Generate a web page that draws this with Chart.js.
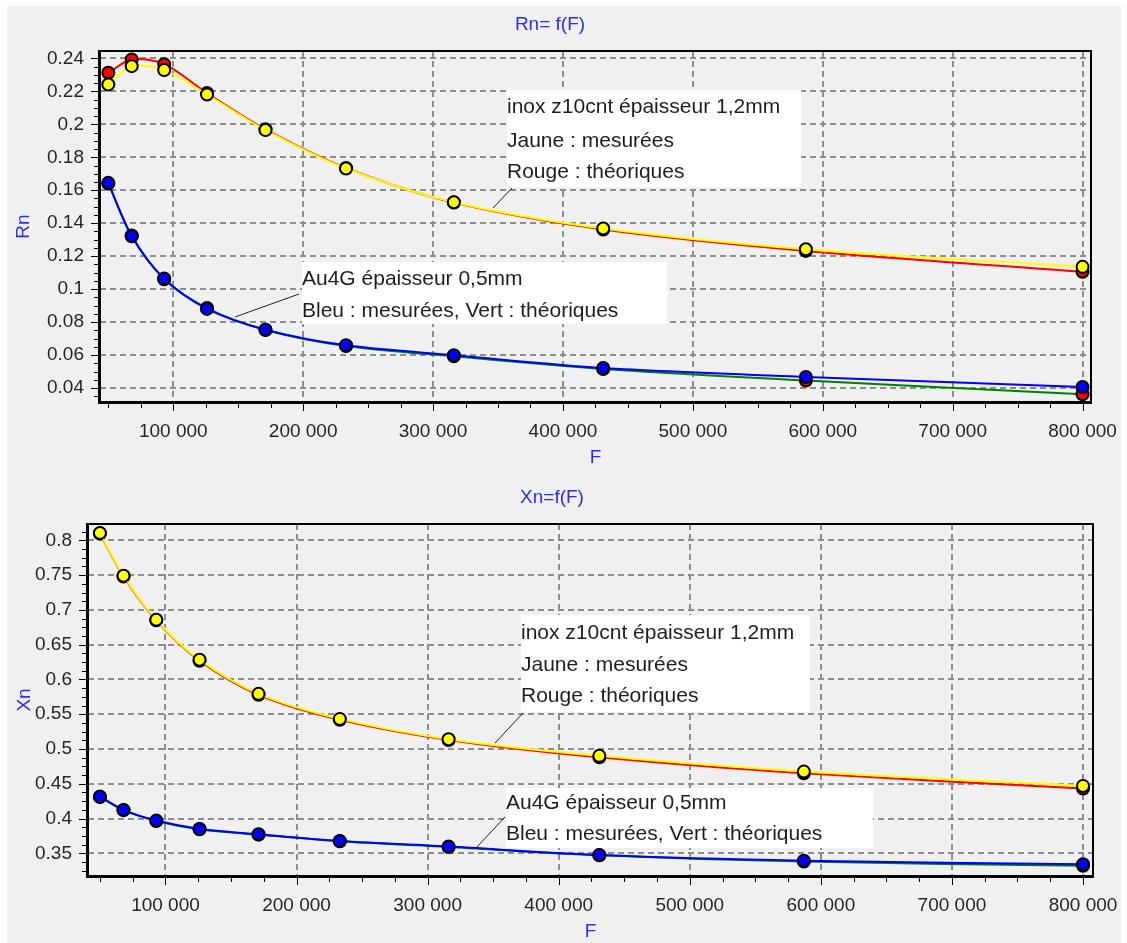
<!DOCTYPE html>
<html>
<head>
<meta charset="utf-8">
<script src="https://cdn.jsdelivr.net/npm/chart.js@4/dist/chart.umd.min.js"></script>
<style>
  html, body { margin: 0; padding: 0; background: #ffffff; }
  #panel { position: absolute; left: 7px; top: 6px; width: 1114px; height: 937px; background: #f0f0f0; }
  #c1 { position: absolute; left: 0; top: 0; }
  #c2 { position: absolute; left: 0; top: 470px; }
</style>
</head>
<body>
<div id="panel"></div>
<canvas id="c1" width="1127" height="470" style="width:1127px;height:470px"></canvas>
<canvas id="c2" width="1127" height="473" style="width:1127px;height:473px"></canvas>
<script>
// ---------- data ----------
const freq = [50000, 68000, 93000, 126000, 171000, 233000, 316000, 431000, 587000, 800000];

const rnInoxMes  = [0.2242, 0.2353, 0.2329, 0.2181, 0.1965, 0.1732, 0.1527, 0.1368, 0.1242, 0.1135];
const rnInoxTheo = [0.2313, 0.2394, 0.2365, 0.2190, 0.1970, 0.1735, 0.1525, 0.1362, 0.1232, 0.1105];
const rnAuMes    = [0.1645, 0.1321, 0.1064, 0.0880, 0.0754, 0.0659, 0.0599, 0.0521, 0.0467, 0.0406];
const rnAuTheo   = [0.1640, 0.1325, 0.1060, 0.0885, 0.0752, 0.0655, 0.0592, 0.0515, 0.0445, 0.0362];

const xnInoxMes  = [0.8107, 0.7492, 0.6859, 0.6283, 0.5793, 0.5433, 0.5141, 0.4901, 0.4675, 0.4469];
const xnInoxTheo = [0.8100, 0.7480, 0.6850, 0.6270, 0.5780, 0.5420, 0.5130, 0.4880, 0.4650, 0.4430];
const xnAuMes    = [0.4315, 0.4124, 0.3970, 0.3850, 0.3774, 0.3677, 0.3596, 0.3476, 0.3394, 0.3342];
const xnAuTheo   = [0.4310, 0.4120, 0.3965, 0.3845, 0.3768, 0.3672, 0.3590, 0.3470, 0.3380, 0.3320];

const xTickValues  = [100000, 200000, 300000, 400000, 500000, 600000, 700000, 800000];
const rnTickValues = [0.04, 0.06, 0.08, 0.1, 0.12, 0.14, 0.16, 0.18, 0.2, 0.22, 0.24];
const xnTickValues = [0.35, 0.4, 0.45, 0.5, 0.55, 0.6, 0.65, 0.7, 0.75, 0.8];

const inoxNote = ['inox z10cnt épaisseur 1,2mm', 'Jaune : mesurées', 'Rouge : théoriques'];
const auNote   = ['Au4G épaisseur 0,5mm', 'Bleu : mesurées, Vert : théoriques'];

// ---------- helpers ----------
const FONT = '"Liberation Sans", Arial, sans-serif';
function fmtF(v) { return String(Math.round(v)).replace(/\B(?=(\d{3})+(?!\d))/g, ' '); }
function fmtY(v) { return String(+v.toFixed(3)); }

function series(label, ys, line, fill) {
  return {
    label: label,
    data: freq.map((f, i) => ({ x: f, y: ys[i] })),
    borderColor: line,
    backgroundColor: fill,
    borderWidth: 2,
    tension: 0.3,
    pointRadius: 6,
    pointHoverRadius: 6,
    pointBackgroundColor: fill,
    pointBorderColor: '#000',
    pointBorderWidth: 2,
    clip: false
  };
}

function decor(o) {
  return {
    id: 'decor',
    beforeDatasetsDraw(chart) {
      const ctx = chart.ctx;
      ctx.save();
      o.notes.forEach(n => {
        ctx.fillStyle = '#ffffff';
        ctx.fillRect(n.x, n.y, n.w, n.h);
        ctx.strokeStyle = '#222';
        ctx.lineWidth = 1;
        ctx.beginPath();
        ctx.moveTo(n.leader[0][0], n.leader[0][1]);
        ctx.lineTo(n.leader[1][0], n.leader[1][1]);
        ctx.stroke();
        ctx.fillStyle = '#1e1e1e';
        ctx.font = '21px ' + FONT;
        ctx.textBaseline = 'middle';
        ctx.textAlign = 'left';
        n.lines.forEach((t, i) => ctx.fillText(t, n.x, n.lineY[i]));
      });
      ctx.restore();
    },
    afterDraw(chart) {
      const ctx = chart.ctx, a = chart.chartArea, xs = chart.scales.x, ys = chart.scales.y;
      ctx.save();
      ctx.fillStyle = '#000';
      ctx.fillRect(a.left - 2, a.top - 1, 3, a.bottom - a.top + 3);
      ctx.fillRect(a.left - 2, a.bottom - 1, a.right - a.left + 3, 3);
      ctx.fillRect(a.left - 2, a.top - 1, a.right - a.left + 3, 2);
      ctx.fillRect(a.right - 1, a.top - 1, 2, a.bottom - a.top + 3);
      ctx.strokeStyle = '#000';
      ctx.lineWidth = 1;
      ctx.beginPath();
      const xStep = 25000;
      for (let k = Math.ceil(xs.min / xStep); k * xStep <= xs.max; k++) {
        const px = Math.round(xs.getPixelForValue(k * xStep)) + 0.5;
        const len = (k % 4 === 0) ? 7 : 4;
        ctx.moveTo(px, a.bottom + 2);
        ctx.lineTo(px, a.bottom + 2 + len);
      }
      for (let k = Math.ceil(ys.min / o.yMinor - 1e-9); k * o.yMinor <= ys.max + 1e-9; k++) {
        const py = Math.round(ys.getPixelForValue(k * o.yMinor)) + 0.5;
        const len = (k % 4 === 0) ? 7 : 4;
        ctx.moveTo(a.left - 2, py);
        ctx.lineTo(a.left - 2 - len, py);
      }
      ctx.stroke();
      ctx.fillStyle = '#2a2aff';
      ctx.font = '19px ' + FONT;
      ctx.textAlign = 'center';
      ctx.textBaseline = 'middle';
      ctx.fillText(o.title, o.titleX, o.titleY);
      ctx.fillText('F', (a.left + a.right) / 2, o.fY);
      ctx.translate(o.yTitleX, (a.top + a.bottom) / 2);
      ctx.rotate(-Math.PI / 2);
      ctx.fillText(o.yTitle, 0, 0);
      ctx.restore();
    }
  };
}

function makeChart(id, datasets, o) {
  return new Chart(document.getElementById(id), {
    type: 'line',
    data: { datasets: datasets },
    plugins: [decor(o)],
    options: {
      responsive: false,
      animation: false,
      events: [],
      layout: { padding: o.padding },
      plugins: { legend: { display: false }, tooltip: { enabled: false }, title: { display: false } },
      scales: {
        x: {
          type: 'linear',
          min: o.xMin, max: o.xMax,
          afterBuildTicks: s => { s.ticks = xTickValues.map(v => ({ value: v })); },
          afterFit: s => { s.height = o.xHeight; s.paddingLeft = 0; s.paddingRight = 0; },
          grid: { color: '#8e8e8e', lineWidth: 2, drawTicks: false },
          border: { display: false, dash: [6, 4] },
          ticks: { autoSkip: false, maxRotation: 0, padding: 18, color: '#262626', font: { family: FONT, size: 19 }, callback: v => fmtF(v) }
        },
        y: {
          type: 'linear',
          min: o.yMin, max: o.yMax,
          afterBuildTicks: s => { s.ticks = o.yTicks.map(v => ({ value: v })); },
          afterFit: s => { s.width = o.yWidth; s.paddingTop = 0; s.paddingBottom = 0; },
          grid: { color: '#8e8e8e', lineWidth: 2, drawTicks: false },
          border: { display: false, dash: [6, 4] },
          ticks: { autoSkip: false, padding: 16, color: '#262626', font: { family: FONT, size: 19 }, callback: v => fmtY(v) }
        }
      }
    }
  });
}

// ---------- top chart : Rn = f(F) ----------
makeChart('c1', [
  series('Rn inox mesurées', rnInoxMes, '#ffff00', '#ffff00'),
  series('Rn Au4G mesurées', rnAuMes, '#0000ff', '#0000ff'),
  series('Rn inox théoriques', rnInoxTheo, '#ff0000', '#ff0000'),
  series('Rn Au4G théoriques', rnAuTheo, '#008000', '#ff0000')
], {
  padding: { top: 51, left: 0, right: 36, bottom: 0 },
  xMin: 43600, xMax: 806500, yMin: 0.0315, yMax: 0.2445,
  yTicks: rnTickValues, yMinor: 0.005, yWidth: 100, xHeight: 68,
  title: 'Rn= f(F)', titleX: 550, titleY: 25, fY: 458, yTitle: 'Rn', yTitleX: 24,
  notes: [
    { x: 507, y: 90, w: 294, h: 97, lines: inoxNote, lineY: [107, 141, 172], leader: [[512, 188], [493, 208]] },
    { x: 302, y: 262, w: 365, h: 62, lines: auNote, lineY: [279, 311], leader: [[299, 294], [235, 317]] }
  ]
});

// ---------- bottom chart : Xn = f(F) ----------
makeChart('c2', [
  series('Xn inox mesurées', xnInoxMes, '#ffff00', '#ffff00'),
  series('Xn Au4G mesurées', xnAuMes, '#0000ff', '#0000ff'),
  series('Xn inox théoriques', xnInoxTheo, '#ff0000', '#ff0000'),
  series('Xn Au4G théoriques', xnAuTheo, '#008000', '#ff0000')
], {
  padding: { top: 54, left: 0, right: 34, bottom: 0 },
  xMin: 40900, xMax: 807600, yMin: 0.3173, yMax: 0.8236,
  yTicks: xnTickValues, yMinor: 0.0125, yWidth: 88, xHeight: 67,
  title: 'Xn=f(F)', titleX: 552, titleY: 28, fY: 462, yTitle: 'Xn', yTitleX: 25,
  notes: [
    { x: 521, y: 145, w: 289, h: 97, lines: inoxNote, lineY: [163, 195, 226], leader: [[523, 243], [495, 273]] },
    { x: 506, y: 318, w: 367, h: 60, lines: auNote, lineY: [333, 364], leader: [[505, 347], [476, 378]] }
  ]
});
</script>
</body>
</html>
